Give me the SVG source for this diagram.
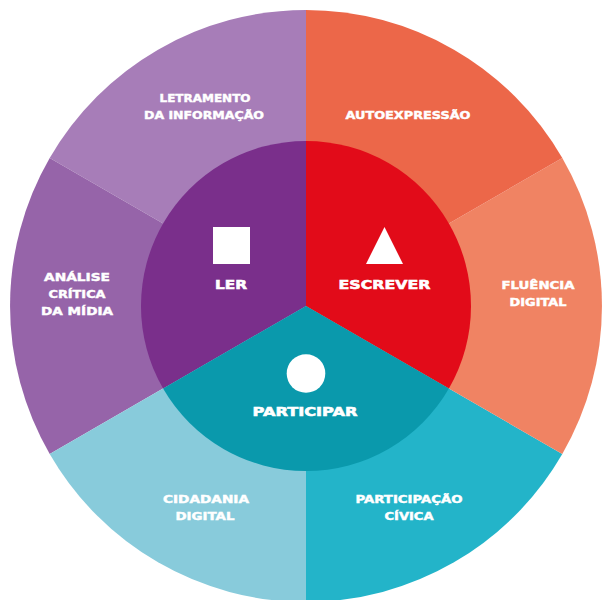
<svg xmlns="http://www.w3.org/2000/svg" width="603" height="600" viewBox="0 0 603 600">
  <style>
    .lbl { font-family: "DejaVu Sans", "Liberation Sans", sans-serif; font-weight: bold; fill: #ffffff; stroke: #ffffff; text-anchor: middle; }
    .outer { font-size: 11px; stroke-width: 0.45px; }
    .inner { font-size: 13px; stroke-width: 0.6px; }
    .icon { fill: #ffffff; }
  </style>
  <rect width="603" height="600" fill="#ffffff"/>

  <!-- outer ring: six 60° wedges around (306,306), r=296 -->
  <g id="letramento">
    <path d="M306,306 L306,10 A296,296 0 0 0 49.7,158 Z" fill="#a77db8"/>
    <text class="lbl outer" x="205" y="102" textLength="91" lengthAdjust="spacingAndGlyphs">LETRAMENTO</text>
    <text class="lbl outer" x="204" y="119" textLength="120" lengthAdjust="spacingAndGlyphs">DA INFORMAÇÃO</text>
  </g>
  <g id="analise">
    <path d="M306,306 L49.7,158 A296,296 0 0 0 49.7,454 Z" fill="#9664a9"/>
    <text class="lbl outer" x="77" y="281" textLength="66" lengthAdjust="spacingAndGlyphs">ANÁLISE</text>
    <text class="lbl outer" x="77" y="298" textLength="57" lengthAdjust="spacingAndGlyphs">CRÍTICA</text>
    <text class="lbl outer" x="77" y="315" textLength="72" lengthAdjust="spacingAndGlyphs">DA MÍDIA</text>
  </g>
  <g id="cidadania">
    <path d="M306,306 L49.7,454 A296,296 0 0 0 306,602 Z" fill="#88cbdb"/>
    <text class="lbl outer" x="206" y="503" textLength="86" lengthAdjust="spacingAndGlyphs">CIDADANIA</text>
    <text class="lbl outer" x="205" y="520" textLength="59" lengthAdjust="spacingAndGlyphs">DIGITAL</text>
  </g>
  <g id="participacao">
    <path d="M306,306 L306,602 A296,296 0 0 0 562.3,454 Z" fill="#23b4c9"/>
    <text class="lbl outer" x="409" y="503" textLength="107" lengthAdjust="spacingAndGlyphs">PARTICIPAÇÃO</text>
    <text class="lbl outer" x="409" y="520" textLength="49" lengthAdjust="spacingAndGlyphs">CÍVICA</text>
  </g>
  <g id="fluencia">
    <path d="M306,306 L562.3,454 A296,296 0 0 0 562.3,158 Z" fill="#f08363"/>
    <text class="lbl outer" x="538" y="289" textLength="73" lengthAdjust="spacingAndGlyphs">FLUÊNCIA</text>
    <text class="lbl outer" x="538" y="306" textLength="57" lengthAdjust="spacingAndGlyphs">DIGITAL</text>
  </g>
  <g id="autoexpressao">
    <path d="M306,306 L562.3,158 A296,296 0 0 0 306,10 Z" fill="#ec6749"/>
    <text class="lbl outer" x="408" y="119" textLength="125" lengthAdjust="spacingAndGlyphs">AUTOEXPRESSÃO</text>
  </g>

  <!-- inner disc: three 120° wedges, r=165 -->
  <g id="ler">
    <path d="M306,306 L306,141 A165,165 0 0 0 163.1,388.5 Z" fill="#7a2f8b"/>
    <rect class="icon" x="213" y="227" width="37" height="37"/>
    <text class="lbl inner" x="231" y="289" textLength="32" lengthAdjust="spacingAndGlyphs">LER</text>
  </g>
  <g id="escrever">
    <path d="M306,306 L306,141 A165,165 0 0 1 448.9,388.5 Z" fill="#e20b19"/>
    <polygon class="icon" points="384.5,227 403,264 366,264"/>
    <text class="lbl inner" x="384.5" y="289" textLength="92" lengthAdjust="spacingAndGlyphs">ESCREVER</text>
  </g>
  <g id="participar">
    <path d="M306,306 L163.1,388.5 A165,165 0 0 0 448.9,388.5 Z" fill="#0a99ac"/>
    <circle class="icon" cx="306" cy="373.5" r="19.3"/>
    <text class="lbl inner" x="305" y="416" textLength="105" lengthAdjust="spacingAndGlyphs">PARTICIPAR</text>
  </g>

  <!-- no connectors in this diagram -->
  <g id="connectors"/>
</svg>
